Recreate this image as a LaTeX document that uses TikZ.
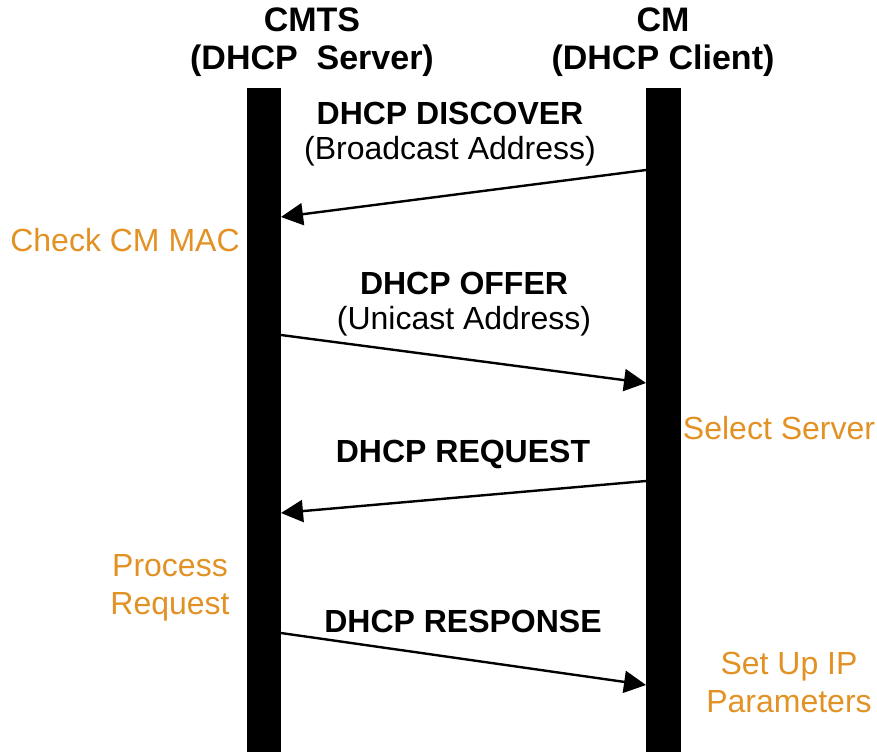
\documentclass[tikz,border=0pt]{standalone}
\usepackage{fontspec}
\setmainfont{Liberation Sans}
\usetikzlibrary{arrows.meta}
\definecolor{stepnote}{RGB}{226,146,36}
\tikzset{
  lifeline/.style={fill=black, draw=none},
  msg/.style={line width=2.4pt, -{Triangle[length=22pt,width=22pt]}},
  title/.style={font=\fontsize{34}{40}\selectfont\bfseries, anchor=base, inner sep=0pt},
  msgname/.style={font=\fontsize{32}{36}\selectfont\bfseries, anchor=base, inner sep=0pt},
  msgnote/.style={font=\fontsize{32}{36}\selectfont, anchor=base, inner sep=0pt},
  action/.style={font=\fontsize{32}{36}\selectfont, text=stepnote, anchor=base, inner sep=0pt}
}
\begin{document}
\begin{tikzpicture}[x=1pt,y=-1pt]
\useasboundingbox (0,0) rectangle (877,752);

% lifelines
\fill[lifeline] (247,88) rectangle (281,752);
\fill[lifeline] (646,88) rectangle (681,752);

% lifeline headings
\node[title] (cmts) at (312,32) {CMTS};
\node[title] (cmtsrole) at (312,69) {(DHCP\ \ Server)};
\node[title] (cm) at (663,32) {CM};
\node[title] (cmrole) at (663,69) {(DHCP Client)};

% message end points on the lifelines
\coordinate (discS) at (646,170);
\coordinate (discE) at (281,217);
\coordinate (offS) at (281,335);
\coordinate (offE) at (646,383);
\coordinate (reqS) at (646,481);
\coordinate (reqE) at (281,513);
\coordinate (resS) at (281,633);
\coordinate (resE) at (646,685);

% messages
\draw[msg] (discS) -- (discE);
\draw[msg] (offS) -- (offE);
\draw[msg] (reqS) -- (reqE);
\draw[msg] (resS) -- (resE);

% message labels
\node[msgname] (discname) at (450,124) {DHCP DISCOVER};
\node[msgnote] (discnote) at (450,159) {(Broadcast Address)};
\node[msgname] (offname) at (464,294) {DHCP OFFER};
\node[msgnote] (offnote) at (464,329) {(Unicast Address)};
\node[msgname] (reqname) at (463,462) {DHCP REQUEST};
\node[msgname] (resname) at (463,632) {DHCP RESPONSE};

% actions taken at each side
\node[action] (checkmac) at (125,251) {Check CM MAC};
\node[action] (selserver) at (779,439) {Select Server};
\node[action] (process1) at (170,576) {Process};
\node[action] (process2) at (170,614) {Request};
\node[action] (setup1) at (789,674) {Set Up IP};
\node[action] (setup2) at (789,712) {Parameters};
\end{tikzpicture}
\end{document}
